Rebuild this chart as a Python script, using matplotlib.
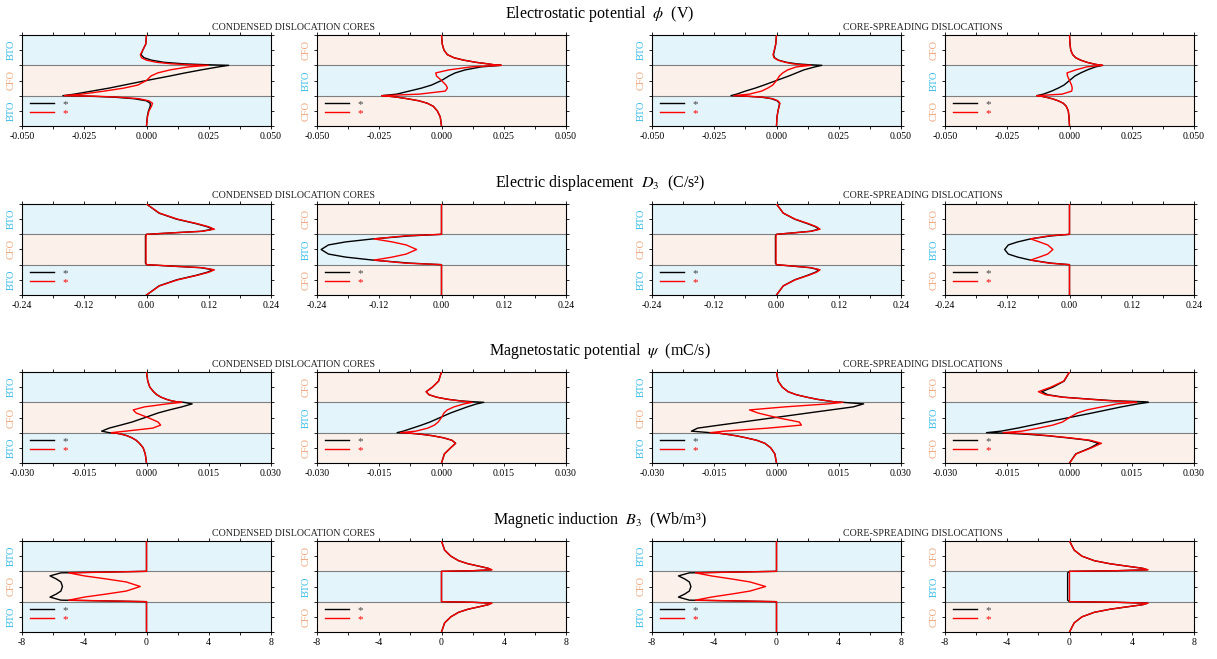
import matplotlib
matplotlib.use("Agg")
import matplotlib.pyplot as plt
from matplotlib.ticker import FixedLocator

plt.rcParams['font.family'] = ['Liberation Serif', 'DejaVu Serif']
plt.rcParams['mathtext.fontset'] = 'stix'

# position across the three layers: bottom -1.5..-0.5, middle -0.5..0.5, top 0.5..1.5
Y = [-1.5, -1.2, -1.0, -0.85, -0.75, -0.67, -0.6, -0.55, -0.52, -0.5,
     -0.45, -0.35, -0.25, -0.15, 0.0, 0.15, 0.25, 0.35, 0.45,
     0.5, 0.52, 0.55, 0.6, 0.67, 0.75, 0.85, 1.0, 1.2, 1.5]

ROW_TITLES = ["Electrostatic potential  $\\phi$  (V)",
              "Electric displacement  $D_3$  (C/s\u00b2)",
              "Magnetostatic potential  $\\psi$  (mC/s)",
              "Magnetic induction  $B_3$  (Wb/m\u00b3)"]
GROUP_TITLES = ["CONDENSED DISLOCATION CORES", "CORE-SPREADING DISLOCATIONS"]
LAYERS = [["BTO", "CFO", "BTO"], ["CFO", "BTO", "CFO"],
          ["BTO", "CFO", "BTO"], ["CFO", "BTO", "CFO"]]   # top to bottom
X_TICKS = [[-0.05, -0.025, 0.0, 0.025, 0.05],
           [-0.24, -0.12, 0.0, 0.12, 0.24],
           [-0.03, -0.015, 0.0, 0.015, 0.03],
           [-8, -4, 0, 4, 8]]
X_LABELS = [["-0.050", "-0.025", "0.000", "0.025", "0.050"],
            ["-0.24", "-0.12", "0.00", "0.12", "0.24"],
            ["-0.030", "-0.015", "0.000", "0.015", "0.030"],
            ["-8", "-4", "0", "4", "8"]]

# ---- electrostatic potential
phi_c1_k = [0.0, 0.0003, 0.0008, 0.0015, 0.0015, 0.0, -0.005, -0.013, -0.022, -0.0336,
            -0.029, -0.022, -0.015, -0.009, 0.0, 0.0095, 0.0155, 0.022, 0.029,
            0.033, 0.024, 0.015, 0.007, 0.002, -0.001, -0.0022, -0.0015, -0.0003, 0.0]
phi_c1_r = [0.0, 0.0004, 0.001, 0.002, 0.0024, 0.001, -0.003, -0.011, -0.02, -0.033,
            -0.026, -0.017, -0.009, -0.0035, 0.0, 0.0018, 0.0045, 0.0095, 0.017,
            0.0248, 0.017, 0.01, 0.004, 0.0, -0.002, -0.0025, -0.0015, -0.0003, 0.0]
phi_c2_k = [0.0, -0.0005, -0.0017, -0.0033, -0.0057, -0.009, -0.0138, -0.0178, -0.021, -0.024,
            -0.018, -0.013, -0.008, -0.004, 0.0, 0.003, 0.0055, 0.0095, 0.016,
            0.024, 0.021, 0.0185, 0.0138, 0.009, 0.005, 0.0024, 0.001, 0.0003, 0.0]
phi_c2_r = [0.0, -0.0005, -0.0017, -0.0033, -0.0057, -0.009, -0.0138, -0.0178, -0.021, -0.024,
            -0.009, 0.0015, 0.0024, 0.0018, 0.0, -0.002, -0.0023, 0.003, 0.012,
            0.024, 0.021, 0.0185, 0.0138, 0.009, 0.005, 0.0024, 0.001, 0.0003, 0.0]
phi_s1_k = [0.0, 0.0002, 0.0006, 0.001, 0.0012, 0.0003, -0.002, -0.006, -0.012, -0.0183,
            -0.016, -0.0125, -0.0085, -0.005, 0.0, 0.005, 0.008, 0.011, 0.0155,
            0.0182, 0.013, 0.008, 0.004, 0.0008, -0.0008, -0.0012, -0.0008, -0.0003, 0.0]
phi_s1_r = [0.0, 0.0002, 0.0006, 0.0011, 0.0014, 0.0006, -0.0015, -0.0055, -0.011, -0.0172,
            -0.011, -0.006, -0.0035, -0.0015, 0.0, 0.0012, 0.0025, 0.0045, 0.008,
            0.0138, 0.01, 0.0065, 0.0035, 0.0006, -0.001, -0.0014, -0.0009, -0.0003, 0.0]
phi_s2_k = [0.0, -0.0002, -0.0005, -0.0013, -0.0025, -0.0045, -0.007, -0.0095, -0.0113, -0.0132,
            -0.0105, -0.0072, -0.0045, -0.0022, 0.0, 0.0022, 0.0045, 0.0072, 0.0105,
            0.0133, 0.0113, 0.0095, 0.007, 0.0045, 0.0025, 0.0013, 0.0005, 0.0002, 0.0]
phi_s2_r = [0.0, -0.0002, -0.0005, -0.0013, -0.0025, -0.0045, -0.007, -0.0095, -0.0113, -0.0132,
            -0.003, 0.0009, 0.0011, 0.0008, 0.0, -0.0008, -0.001, 0.0025, 0.007,
            0.0133, 0.0113, 0.0095, 0.007, 0.0045, 0.0025, 0.0013, 0.0005, 0.0002, 0.0]

# ---- electric displacement
d_c1_k = [0.0, 0.024, 0.058, 0.096, 0.117, 0.128, 0.105, 0.05, 0.02, 0.0,
          -0.002, -0.002, -0.002, -0.002, -0.002, -0.002, -0.002, -0.002, -0.002,
          0.0, 0.02, 0.05, 0.105, 0.128, 0.117, 0.096, 0.058, 0.024, 0.0]
d_c1_r = [0.0, 0.025, 0.06, 0.098, 0.12, 0.131, 0.108, 0.052, 0.021, 0.0,
          -0.001, -0.001, -0.001, -0.001, -0.001, -0.001, -0.001, -0.001, -0.001,
          0.0, 0.021, 0.052, 0.108, 0.131, 0.12, 0.098, 0.06, 0.025, 0.0]
d_c2_k = [0.0, 0.0, 0.0, 0.0, 0.0, 0.0, 0.0, 0.0, 0.0, 0.0,
          -0.06, -0.132, -0.185, -0.218, -0.232, -0.218, -0.185, -0.132, -0.06,
          0.0, 0.0, 0.0, 0.0, 0.0, 0.0, 0.0, 0.0, 0.0, 0.0]
d_c2_r = [0.0, 0.0, 0.0, 0.0, 0.0, 0.0, 0.0, 0.0, 0.0, 0.0,
          -0.07, -0.13, -0.095, -0.068, -0.048, -0.068, -0.095, -0.13, -0.07,
          0.0, 0.0, 0.0, 0.0, 0.0, 0.0, 0.0, 0.0, 0.0, 0.0]
d_s1_k = [0.0, 0.013, 0.035, 0.06, 0.075, 0.082, 0.065, 0.033, 0.013, 0.0,
          -0.002, -0.002, -0.002, -0.002, -0.002, -0.002, -0.002, -0.002, -0.002,
          0.0, 0.013, 0.033, 0.065, 0.082, 0.075, 0.06, 0.035, 0.013, 0.0]
d_s1_r = [0.0, 0.013, 0.036, 0.062, 0.077, 0.084, 0.067, 0.034, 0.013, 0.0,
          -0.001, -0.001, -0.001, -0.001, -0.001, -0.001, -0.001, -0.001, -0.001,
          0.0, 0.013, 0.034, 0.067, 0.084, 0.077, 0.062, 0.036, 0.013, 0.0]
d_s2_k = [0.0, 0.0, 0.0, 0.0, 0.0, 0.0, 0.0, 0.0, 0.0, 0.0,
          -0.035, -0.075, -0.1, -0.118, -0.125, -0.118, -0.1, -0.075, -0.035,
          0.0, 0.0, 0.0, 0.0, 0.0, 0.0, 0.0, 0.0, 0.0, 0.0]
d_s2_r = [0.0, 0.0, 0.0, 0.0, 0.0, 0.0, 0.0, 0.0, 0.0, 0.0,
          -0.04, -0.075, -0.058, -0.042, -0.032, -0.042, -0.058, -0.075, -0.04,
          0.0, 0.0, 0.0, 0.0, 0.0, 0.0, 0.0, 0.0, 0.0, 0.0]

# ---- magnetostatic potential
psi_c1_k = [0.0, -0.0003, -0.0008, -0.0017, -0.0025, -0.0035, -0.0047, -0.006, -0.0072, -0.009,
            -0.0108, -0.009, -0.0062, -0.0035, -0.0003, 0.0028, 0.0055, 0.0085, 0.011,
            0.009, 0.0072, 0.006, 0.0048, 0.0035, 0.0025, 0.0017, 0.0008, 0.0003, 0.0]
psi_c1_r = [0.0, -0.0003, -0.0008, -0.0017, -0.0025, -0.0035, -0.0047, -0.006, -0.0072, -0.0085,
            -0.005, 0.0015, 0.0034, 0.0028, 0.0003, -0.0025, -0.0032, -0.0005, 0.005,
            0.0085, 0.0072, 0.006, 0.0048, 0.0035, 0.0025, 0.0017, 0.0008, 0.0003, 0.0]
psi_c2_k = [0.0, 0.0007, 0.0022, 0.0034, 0.0025, 0.0005, -0.0022, -0.005, -0.0075, -0.0107,
            -0.0092, -0.007, -0.0048, -0.0028, -0.0003, 0.0022, 0.0042, 0.0062, 0.0085,
            0.0102, 0.0075, 0.0045, 0.0015, -0.0012, -0.003, -0.0037, -0.0022, -0.0007, 0.0]
psi_c2_r = [0.0, 0.0007, 0.0022, 0.0034, 0.0025, 0.0005, -0.0022, -0.005, -0.0072, -0.0099,
            -0.0062, -0.0033, -0.0017, -0.0008, 0.0, 0.0006, 0.0014, 0.003, 0.0055,
            0.0074, 0.006, 0.0042, 0.0015, -0.0012, -0.003, -0.0037, -0.0022, -0.0007, 0.0]
psi_s1_k = [0.0, -0.0004, -0.0014, -0.0028, -0.0048, -0.0073, -0.0098, -0.0122, -0.0138, -0.016,
            -0.0205, -0.019, -0.0137, -0.0083, -0.0003, 0.0077, 0.0131, 0.0185, 0.021,
            0.016, 0.0138, 0.0122, 0.0098, 0.0073, 0.0048, 0.0028, 0.0014, 0.0004, 0.0]
psi_s1_r = [0.0, -0.0004, -0.0014, -0.0028, -0.0048, -0.0073, -0.0098, -0.0122, -0.0138, -0.016,
            -0.0125, -0.002, 0.006, 0.0055, 0.0, -0.0045, -0.0065, 0.002, 0.0125,
            0.016, 0.0138, 0.0122, 0.0098, 0.0073, 0.0048, 0.0028, 0.0014, 0.0004, 0.0]
psi_s2_k = [0.0, 0.0015, 0.005, 0.007, 0.0045, -0.0005, -0.0055, -0.0105, -0.015, -0.02,
            -0.0165, -0.0125, -0.009, -0.0055, 0.0, 0.0055, 0.009, 0.0125, 0.0165,
            0.019, 0.018, 0.011, 0.0055, -0.0015, -0.0052, -0.0067, -0.004, -0.0013, 0.0]
psi_s2_r = [0.0, 0.0016, 0.0053, 0.0077, 0.005, 0.0, -0.005, -0.009, -0.012, -0.016,
            -0.0115, -0.0075, -0.004, -0.0017, 0.0, 0.0019, 0.0042, 0.0078, 0.0115,
            0.0162, 0.0145, 0.01, 0.005, -0.0018, -0.0058, -0.0075, -0.0045, -0.0014, 0.0]

# ---- magnetic induction
b_c1_k = [0.0, 0.0, 0.0, 0.0, 0.0, 0.0, 0.0, 0.0, 0.0, 0.0,
          -5.5, -6.2, -5.8, -5.5, -5.4, -5.5, -5.8, -6.2, -5.5,
          0.0, 0.0, 0.0, 0.0, 0.0, 0.0, 0.0, 0.0, 0.0, 0.0]
b_c1_r = [0.0, 0.0, 0.0, 0.0, 0.0, 0.0, 0.0, 0.0, 0.0, 0.0,
          -5.0, -4.0, -2.6, -1.3, -0.4, -1.3, -2.6, -4.0, -5.0,
          0.0, 0.0, 0.0, 0.0, 0.0, 0.0, 0.0, 0.0, 0.0, 0.0]
b_c2_k = [0.0, 0.2, 0.6, 1.1, 1.7, 2.4, 3.0, 3.2, 2.0, 0.0,
          0.0, 0.0, 0.0, 0.0, 0.0, 0.0, 0.0, 0.0, 0.0,
          0.0, 2.0, 3.2, 3.0, 2.4, 1.7, 1.1, 0.6, 0.2, 0.0]
b_c2_r = [0.0, 0.2, 0.6, 1.1, 1.7, 2.4, 3.0, 3.25, 2.0, 0.0,
          0.0, 0.0, 0.0, 0.0, 0.0, 0.0, 0.0, 0.0, 0.0,
          0.0, 2.0, 3.25, 3.0, 2.4, 1.7, 1.1, 0.6, 0.2, 0.0]
b_s1_k = [0.0, 0.0, 0.0, 0.0, 0.0, 0.0, 0.0, 0.0, 0.0, 0.0,
          -5.6, -6.3, -5.9, -5.6, -5.5, -5.6, -5.9, -6.3, -5.6,
          0.0, 0.0, 0.0, 0.0, 0.0, 0.0, 0.0, 0.0, 0.0, 0.0]
b_s1_r = [0.0, 0.0, 0.0, 0.0, 0.0, 0.0, 0.0, 0.0, 0.0, 0.0,
          -5.2, -4.2, -2.9, -1.7, -0.7, -1.7, -2.9, -4.2, -5.2,
          0.0, 0.0, 0.0, 0.0, 0.0, 0.0, 0.0, 0.0, 0.0, 0.0]
b_s2_k = [0.0, 0.3, 0.8, 1.6, 2.6, 3.7, 4.7, 5.0, 3.0, 0.0,
          -0.12, -0.12, -0.12, -0.12, -0.12, -0.12, -0.12, -0.12, -0.12,
          0.0, 3.0, 5.0, 4.7, 3.7, 2.6, 1.6, 0.8, 0.3, 0.0]
b_s2_r = [0.0, 0.3, 0.8, 1.6, 2.6, 3.7, 4.7, 5.05, 3.0, 0.0,
          0.0, 0.0, 0.0, 0.0, 0.0, 0.0, 0.0, 0.0, 0.0,
          0.0, 3.0, 5.05, 4.7, 3.7, 2.6, 1.6, 0.8, 0.3, 0.0]

CURVES = [[(phi_c1_k, phi_c1_r), (phi_c2_k, phi_c2_r), (phi_s1_k, phi_s1_r), (phi_s2_k, phi_s2_r)],
          [(d_c1_k, d_c1_r), (d_c2_k, d_c2_r), (d_s1_k, d_s1_r), (d_s2_k, d_s2_r)],
          [(psi_c1_k, psi_c1_r), (psi_c2_k, psi_c2_r), (psi_s1_k, psi_s1_r), (psi_s2_k, psi_s2_r)],
          [(b_c1_k, b_c1_r), (b_c2_k, b_c2_r), (b_s1_k, b_s1_r), (b_s2_k, b_s2_r)]]

BAND_COLOR = {"BTO": "#e3f4fb", "CFO": "#fbf1ea"}
LABEL_COLOR = {"BTO": "#33b8e8", "CFO": "#eda57a"}

W, H = 1217, 659
col_left = [22, 317, 652, 945]
row_top = [35, 204, 372, 541]
aw, ah = 249, 91

fig = plt.figure(figsize=(W / 100, H / 100), dpi=100)

for r in range(4):
    fig.text(600 / W, 1 - (row_top[r] - 21) / H, ROW_TITLES[r],
             ha='center', va='center', fontsize=11.5)
    fig.text(293 / W, 1 - (row_top[r] - 8) / H, GROUP_TITLES[0],
             ha='center', va='center', fontsize=7.2, color='#222222')
    fig.text(923 / W, 1 - (row_top[r] - 8) / H, GROUP_TITLES[1],
             ha='center', va='center', fontsize=7.2, color='#222222')
    ticks = X_TICKS[r]
    for c in range(4):
        ax = fig.add_axes([col_left[c] / W, 1 - (row_top[r] + ah) / H, aw / W, ah / H])
        layers = LAYERS[c]
        for i, name in enumerate(layers):
            lo = 0.5 - i
            ax.axhspan(lo, lo + 1, color=BAND_COLOR[name], lw=0, zorder=0)
            ax.text(-0.042, (2.5 - i) / 3, name, transform=ax.transAxes, rotation=90,
                    ha='center', va='center', fontsize=7.5, color=LABEL_COLOR[name])
        ax.axhline(0.5, color='#7f7f7f', lw=0.8, zorder=1)
        ax.axhline(-0.5, color='#7f7f7f', lw=0.8, zorder=1)

        xk, xr = CURVES[r][c]
        ax.plot(xk, Y, color='black', lw=1.0, label='*', zorder=3)
        ax.plot(xr, Y, color='red', lw=1.0, label='*', zorder=4)

        ax.set_xlim(ticks[0], ticks[-1])
        ax.set_ylim(-1.5, 1.5)
        ax.xaxis.set_major_locator(FixedLocator(ticks))
        ax.set_xticklabels(X_LABELS[r])
        minor = [(ticks[k] + ticks[k + 1]) / 2 for k in range(4)]
        ax.xaxis.set_minor_locator(FixedLocator(minor))
        ax.yaxis.set_major_locator(FixedLocator([-1.5, -1, -0.5, 0, 0.5, 1, 1.5]))
        ax.set_yticklabels([])
        ax.tick_params(which='both', direction='out', top=True, right=True,
                       length=2.5, width=0.6, labelsize=7, pad=2)
        for s in ax.spines.values():
            s.set_linewidth(0.8)

        ax.legend(loc='lower left', frameon=False, fontsize=8,
                  handlelength=2.2, handletextpad=0.7, labelspacing=-0.05,
                  borderaxespad=0.3, labelcolor=['#444444', 'red'])

fig.savefig('out.png', dpi=100)
